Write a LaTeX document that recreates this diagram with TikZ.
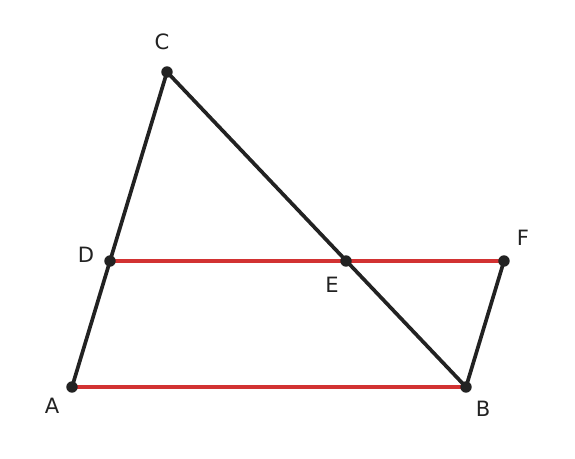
\documentclass[tikz,border=0pt]{standalone}
\usepackage{fontspec}
\setmainfont{DejaVu Sans}
\usetikzlibrary{positioning}
\definecolor{segred}{RGB}{210,50,50}
\definecolor{ink}{RGB}{34,34,34}
\tikzset{pt/.style={circle,fill=ink,inner sep=0pt,minimum size=6.5pt},
  lbl/.style={font=\fontsize{12}{14}\selectfont,text=ink}}
\begin{document}
\begin{tikzpicture}[x=0.02cm,y=-0.02cm]
\useasboundingbox (0,0) rectangle (575,459);
% points
\coordinate (A) at (72,387);
\coordinate (B) at (466,387);
\coordinate (C) at (167,72);
\coordinate (D) at (110,261);
\coordinate (E) at (346,261);
\coordinate (F) at (504,261);
%
\draw[segred,line width=2.1pt] (D) -- (F);
\draw[segred,line width=2.1pt] (A) -- (B);
\draw[ink,line width=2.1pt,line join=round] (A) -- (C) -- (B) -- (F);
%
\foreach \p in {A,B,C,D,E,F} \node[pt] (p\p) at (\p) {};
\node[lbl] (lA) at (52,406) {A};
\node[lbl] (lB) at (483,409) {B};
\node[lbl] (lC) at (162,42) {C};
\node[lbl] (lD) at (86,255) {D};
\node[lbl] (lE) at (332,285) {E};
\node[lbl] (lF) at (523,238) {F};
\end{tikzpicture}
\end{document}
